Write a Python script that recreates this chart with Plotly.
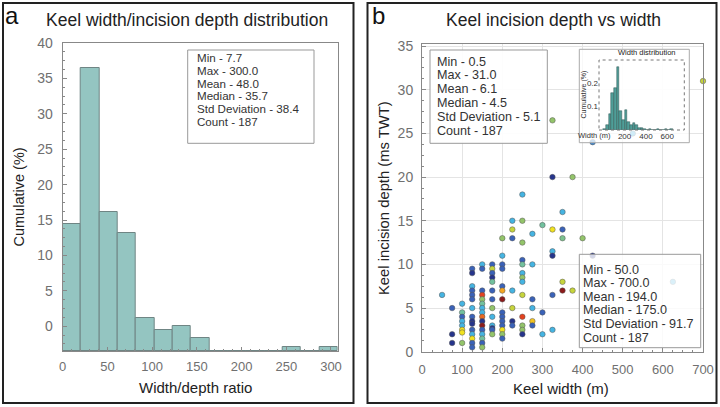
import plotly.graph_objects as go

W, H = 720, 407

# ---- panel a : width/depth ratio histogram ----
ratio_bin_left = [0, 20.5, 41, 61.5, 82, 102.5, 123, 143.5, 164, 184.5, 205, 225.5, 246, 266.5, 287]
ratio_bin_width = 20.5
ratio_pct = [14.4, 36.5, 16.1, 13.2, 1.1, -0.6, 0.0, -1.7, -3.5, -3.5, -3.5, -3.5, -2.9, -3.5, -2.9]
ratio_floor = -3.5
ratio_stats = ["Min - 7.7", "Max - 300.0", "Mean - 48.0", "Median - 35.7", "Std Deviation - 38.4", "Count - 187"]

# ---- panel b : depth vs width scatter ----
# colour value = position in the jet-like colour scale (0 navy ... 1 dark red)
keel_width = [
    50,
    75, 75, 75,
    100, 100, 100, 100, 100, 100, 100, 100,
    125, 125, 125, 125, 125, 125, 125, 125, 125, 125, 125, 125, 125, 125, 125,
    150, 150, 150, 150, 150, 150, 150, 150, 150, 150, 150, 150, 150, 150, 150, 150,
    175, 175, 175, 175, 175, 175, 175, 175, 175, 175, 175, 175, 175,
    200, 200, 200, 200, 200, 200, 200, 200, 200, 200, 200, 200, 200, 200,
    225, 225, 225, 225, 225, 225, 225,
    250, 250, 250, 250, 250, 250, 250, 250, 250, 250, 250, 250, 250,
    275, 275, 275, 275, 275, 275,
    300, 300, 300,
    325, 325, 325, 325, 325, 325, 325,
    350, 350, 350, 350, 350,
    375, 375,
    400,
    425, 425,
    525, 625, 700,
]
keel_depth = [
    6.5,
    5, 2, 1,
    5.5, 4.5, 4, 3.5, 3, 2.5, 2.2, 1,
    9.5, 9, 7.5, 7, 6.5, 6, 5, 4, 3.5, 3.2, 2.5, 2, 1.5, 1, 0.5,
    10, 9.5, 7, 6.5, 6, 5.5, 5, 4.5, 4, 3.5, 3, 2.5, 2, 1.5, 1, 0.5,
    10, 9.5, 9, 8.5, 8, 7, 6, 5, 4, 3, 2.7, 2.5, 2,
    13, 11, 10, 9.5, 7.5, 7, 6, 4.5, 4, 3.5, 3, 2.5, 2, 1.5,
    15, 14, 13, 7, 5, 3.5, 3,
    18, 15, 12.5, 10.5, 10, 9, 8.5, 8, 6.5, 4, 3, 2.5, 2,
    13.5, 10, 6, 5, 3.5, 3,
    14.5, 4.5, 2,
    26.5, 20, 14, 11.5, 11, 6.5, 2.5,
    16, 14, 13, 8, 7,
    20, 7,
    13,
    24, 11,
    25, 8, 31,
]
keel_cval = [
    0.30,
    0.12, 0.0, 0.0,
    0.30, 0.42, 0.12, 0.30, 0.30, 0.70, 0.70, 0.52,
    0.12, 0.0, 0.30, 0.12, 0.12, 0.12, 0.30, 0.12, 0.0, 0.0, 0.12, 0.30, 0.70, 0.12, 0.12,
    0.30, 0.12, 0.12, 0.88, 0.52, 0.42, 0.30, 0.30, 0.84, 0.0, 1.0, 0.12, 0.30, 0.42, 0.12, 0.52,
    0.12, 0.62, 0.12, 0.0, 0.42, 0.12, 0.12, 0.52, 0.30, 0.30, 0.0, 0.12, 0.52,
    0.52, 0.30, 0.12, 0.12, 0.12, 0.78, 1.0, 0.12, 0.12, 0.12, 0.12, 0.70, 0.52, 0.12,
    0.30, 0.62, 0.12, 0.30, 0.62, 0.0, 0.12,
    0.30, 0.52, 0.52, 0.12, 0.42, 0.30, 0.52, 0.30, 0.62, 0.88, 0.52, 0.52, 0.0,
    0.30, 0.30, 0.12, 0.30, 0.74, 0.12,
    0.42, 0.12, 0.30,
    0.52, 0.0, 0.70, 0.30, 0.0, 0.12, 0.30,
    0.30, 0.12, 0.45, 0.62, 1.0,
    0.52, 0.62,
    0.52,
    0.20, 0.0,
    0.30, 0.30, 0.62,
]
depth_stats = ["Min - 0.5", "Max - 31.0", "Mean - 6.1", "Median - 4.5", "Std Deviation - 5.1", "Count - 187"]
width_stats = ["Min - 50.0", "Max - 700.0", "Mean - 194.0", "Median - 175.0", "Std Deviation - 91.7", "Count - 187"]

# ---- inset : width distribution ----
inset_bin_left = [0, 25, 50, 75, 100, 125, 150, 175, 200, 225, 250, 275, 300, 325, 350, 375,
                  400, 425, 450, 475, 500, 525, 550, 575, 600, 625]
inset_bin_width = 25
inset_frac = [0.005, 0.02, 0.07, 0.16, 0.18, 0.27, 0.08, 0.045, 0.085, 0.035, 0.02, 0.03, 0.02,
              0.01, 0.01, 0.005, 0, 0.005, 0, 0, 0.005, 0, 0, 0.005, 0, 0.005]

jet_muted = [
    [0.00, "#26358c"], [0.12, "#3a62b8"], [0.30, "#45b4e2"], [0.42, "#72c19e"],
    [0.52, "#93c46a"], [0.62, "#c6d43c"], [0.70, "#f1e21f"], [0.78, "#f4a623"],
    [0.88, "#e3421f"], [1.00, "#8c1b1b"],
]

FONT = "Liberation Sans, Arial, sans-serif"
TXT = "#333"
TICK = "#707070"


def px(x):
    return x / W


def py(y):
    return 1 - y / H


fig = go.Figure()

fig.add_trace(go.Bar(
    x=[l + ratio_bin_width / 2 for l in ratio_bin_left],
    y=[p - ratio_floor for p in ratio_pct],
    base=ratio_floor,
    width=ratio_bin_width,
    marker=dict(color="#94c5c1", line=dict(color="#6f8584", width=1)),
    xaxis="x", yaxis="y", showlegend=False,
))

fig.add_trace(go.Scatter(
    x=keel_width, y=keel_depth, mode="markers",
    marker=dict(size=5.5, color=keel_cval, colorscale=jet_muted, cmin=0, cmax=1,
                line=dict(color="#555", width=0.5)),
    xaxis="x2", yaxis="y2", showlegend=False, cliponaxis=False,
))

# empty subplot that makes the inset frame semi-opaque
fig.add_trace(go.Scatter(x=[None], y=[None], xaxis="x3", yaxis="y3", showlegend=False))

fig.add_trace(go.Bar(
    x=[l + inset_bin_width / 2 for l in inset_bin_left],
    y=inset_frac,
    width=inset_bin_width,
    marker=dict(color="#4f9e98", line=dict(color="#2f5552", width=0.5)),
    xaxis="x4", yaxis="y4", showlegend=False,
))

axis_common = dict(showline=True, linecolor="#888", linewidth=1, mirror=True, automargin=False,
                   zeroline=False, ticks="inside", ticklen=4, tickcolor="#888")
xtick = dict(family=FONT, size=13, color=TICK)
ytick = dict(family=FONT, size=14, color=TICK)

fig.update_layout(
    width=W, height=H, margin=dict(l=0, r=0, t=0, b=0),
    paper_bgcolor="white", plot_bgcolor="rgba(255,255,255,0.75)",
    bargap=0,
    font=dict(family=FONT, color=TXT),
    xaxis=dict(axis_common, domain=[px(62.7), px(337.7)], range=[0, 307.5], tickfont=xtick,
               tickvals=[0, 50, 100, 150, 200, 250, 300], showgrid=False, ticklabelstandoff=3,
               minor=dict(dtick=10, ticks="inside", ticklen=2, tickcolor="#888"),
               anchor="y"),
    yaxis=dict(axis_common, domain=[py(351), py(43)], range=[ratio_floor, 40], tickfont=ytick,
               tickvals=[0, 5, 10, 15, 20, 25, 30, 35, 40], showgrid=False, ticklabelstandoff=6,
               minor=dict(dtick=1.25, ticks="inside", ticklen=2, tickcolor="#888"),
               anchor="x"),
    xaxis2=dict(axis_common, domain=[px(422), px(703)], range=[0, 700], tickfont=xtick,
                tickvals=[0, 100, 200, 300, 400, 500, 600, 700], showgrid=True,
                gridcolor="#e4e4e4", gridwidth=1, ticklabelstandoff=6,
                minor=dict(dtick=25, ticks="inside", ticklen=2, tickcolor="#888"),
                anchor="y2"),
    yaxis2=dict(axis_common, domain=[py(351.7), py(43.5)], range=[0, 35.3], tickfont=ytick,
                tickvals=[0, 5, 10, 15, 20, 25, 30, 35], showgrid=True,
                gridcolor="#e4e4e4", gridwidth=1, ticklabelstandoff=5,
                minor=dict(dtick=1.25, ticks="inside", ticklen=2, tickcolor="#888"),
                anchor="x2"),
    xaxis3=dict(domain=[px(579.3), px(689.3)], range=[0, 1], visible=False, anchor="y3",
                automargin=False),
    yaxis3=dict(domain=[py(142.7), py(49.3)], range=[0, 1], visible=False, anchor="x3",
                automargin=False),
    xaxis4=dict(domain=[px(599), px(684.3)], range=[-40, 760], showgrid=False, zeroline=False,
                showline=False, tickvals=[200, 400, 600], ticks="", automargin=False,
                tickfont=dict(family=FONT, size=8, color="#333"), anchor="y4"),
    yaxis4=dict(domain=[py(130), py(60)], range=[0, 0.3], showgrid=False, zeroline=False,
                showline=False, tickvals=[0.1, 0.2], ticks="", automargin=False,
                tickfont=dict(family=FONT, size=8, color="#333"), anchor="x4"),
)

shapes = [
    # panel frames
    dict(type="rect", xref="paper", yref="paper", x0=px(3), x1=px(353.5), y0=py(403), y1=py(3),
         line=dict(color="#222", width=2), layer="above"),
    dict(type="rect", xref="paper", yref="paper", x0=px(367.5), x1=px(716.5), y0=py(403), y1=py(3),
         line=dict(color="#222", width=2), layer="above"),
    # stats boxes
    dict(type="rect", xref="paper", yref="paper", x0=px(187.7), x1=px(314), y0=py(143.3), y1=py(50),
         line=dict(color="#999", width=1), fillcolor="rgba(255,255,255,0.9)", layer="above"),
    dict(type="rect", xref="paper", yref="paper", x0=px(430), x1=px(547.3), y0=py(143.3), y1=py(50),
         line=dict(color="#999", width=1), fillcolor="rgba(255,255,255,0.9)", layer="above"),
    dict(type="rect", xref="paper", yref="paper", x0=px(579.3), x1=px(700.7), y0=py(347.7), y1=py(254.3),
         line=dict(color="#999", width=1), fillcolor="rgba(255,255,255,0.8)", layer="above"),
    # inset frames
    dict(type="rect", xref="paper", yref="paper", x0=px(579.3), x1=px(689.3), y0=py(142.7), y1=py(49.3),
         line=dict(color="#aaa", width=1), layer="above"),
    dict(type="rect", xref="paper", yref="paper", x0=px(599), x1=px(684.3), y0=py(130), y1=py(60),
         line=dict(color="#777", width=1, dash="dot"), layer="above"),
]
fig.update_layout(shapes=shapes)

ann = []


def text(x, y, s, size, color=TXT, xanchor="center", angle=0):
    ann.append(dict(x=px(x), y=py(y), xref="paper", yref="paper", text=s, showarrow=False,
                    xanchor=xanchor, yanchor="middle", textangle=angle, borderpad=0,
                    font=dict(family=FONT, size=size, color=color)))


text(12, 15, "a", 24, "#111", "center")
text(187, 20, "Keel width/incision depth distribution", 17.5, "#222")
text(18.5, 197, "Cumulative (%)", 14.5, "#222", angle=-90)
text(195, 387, "Width/depth ratio", 15, "#222")
for i, s in enumerate(ratio_stats):
    text(196.5, 57.5 + i * 12.8, s, 11.6, "#333", "left")

text(378, 15, "b", 24, "#111", "center")
text(553, 20, "Keel incision depth vs width", 17.5, "#222")
text(384, 198, "Keel incision depth (ms TWT)", 14.8, "#222", angle=-90)
text(561, 388, "Keel width (m)", 15, "#222")
for i, s in enumerate(depth_stats):
    text(436.5, 61.5 + i * 13.8, s, 12.6, "#333", "left")
for i, s in enumerate(width_stats):
    text(581.5, 269.5 + i * 13.6, s, 12.6, "#333", "left")

text(646.5, 52.5, "Width distribution", 7.5, "#222")
text(583.5, 95, "Cumulative (%)", 7, "#333", angle=-90)
text(594.5, 135, "Width (m)", 7.5, "#333")

fig.update_layout(annotations=ann)

fig.write_html("out.html", config={"displayModeBar": False},
               post_script="document.body.style.margin='0px';")
